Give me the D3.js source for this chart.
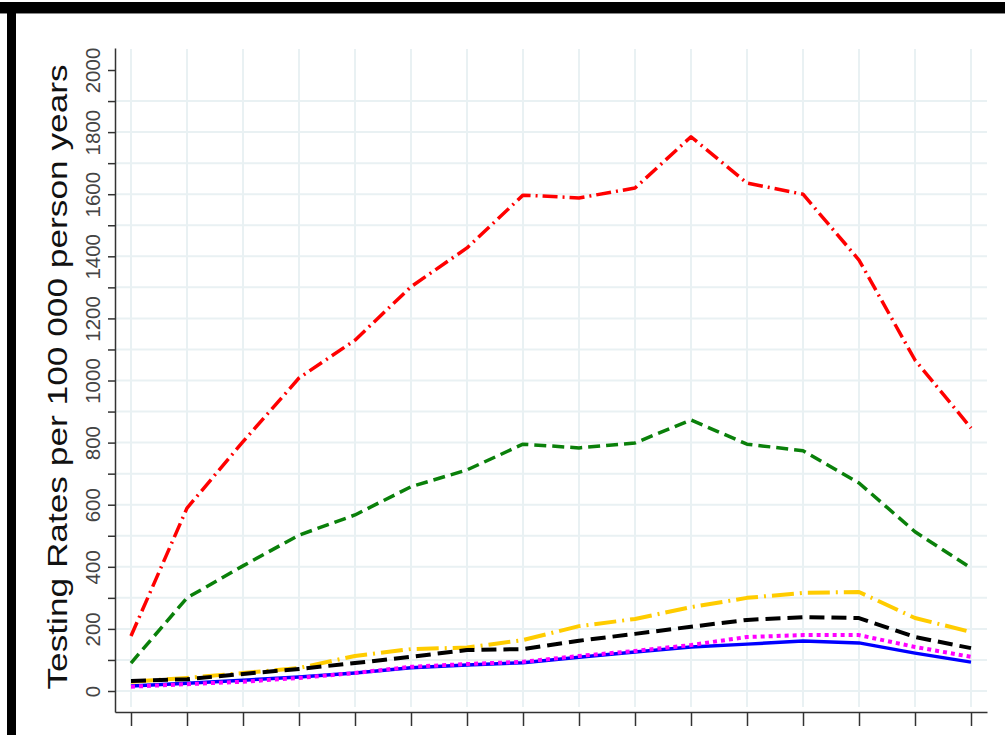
<!DOCTYPE html>
<html>
<head>
<meta charset="utf-8">
<script src="https://cdn.jsdelivr.net/npm/d3@7/dist/d3.min.js"></script>
<style>
  body { margin: 0; background: #fff; }
  svg { display: block; }
</style>
</head>
<body>
<svg width="1005" height="735"></svg>
<script>
;(function (d3) {
  var svg = d3.select('svg')

  // x positions are years, the labels sit below the visible area
  var years = d3.range(2000, 2016)

  var red = [177, 589, 803, 1008, 1130, 1302, 1427, 1597, 1588, 1620, 1785, 1636, 1600, 1388, 1066, 847]
  var green = [90, 300, 403, 502, 567, 658, 712, 795, 783, 799, 873, 795, 774, 670, 513, 396]
  var gold = [30, 42, 58, 74, 113, 135, 140, 164, 209, 232, 270, 300, 316, 319, 235, 190]
  var black = [32, 38, 55, 71, 90, 110, 132, 135, 162, 184, 207, 229, 238, 235, 174, 138]
  var magenta = [14, 22, 30, 42, 58, 78, 87, 94, 113, 129, 148, 174, 180, 180, 142, 110]
  var blue = [16, 25, 35, 45, 58, 75, 84, 91, 109, 126, 142, 151, 161, 155, 122, 93]

  var yTicks = d3.range(0, 2001, 100)
  var yGrid = d3.range(0, 1901, 100)

  var series = [
    {values: blue, color: '#0000ff', width: 3.5, dash: null},
    {values: magenta, color: '#ff00ff', width: 4, dash: '4,4'},
    {values: gold, color: '#ffcc00', width: 4, dash: '22,6,2,6'},
    {values: black, color: '#000000', width: 4, dash: '15,7'},
    {values: green, color: '#0a800a', width: 3.5, dash: '12,6'},
    {values: red, color: '#ff0000', width: 3.5, dash: '15,5,2,5'}
  ]

  var pad = 16 / 56
  var x = d3.scaleLinear()
    .domain([years[0] - pad, years[years.length - 1] + pad])
    .range([115, 987])

  var y = d3.scaleLinear()
    .domain([-67.6, 2070.9])
    .range([712, 48])

  // frame
  svg.append('rect').attr('x', 0).attr('y', 2).attr('width', 1005).attr('height', 11).attr('fill', '#000')
  svg.append('rect').attr('x', 0).attr('y', 13).attr('width', 1005).attr('height', 1).attr('fill', '#888')
  svg.append('rect').attr('x', 7).attr('y', 2).attr('width', 9).attr('height', 733).attr('fill', '#000')

  // grid
  svg.append('g').selectAll('line')
    .data(years)
    .enter()
    .append('line')
    .attr('x1', function (d) { return x(d) })
    .attr('x2', function (d) { return x(d) })
    .attr('y1', 49)
    .attr('y2', 707)
    .style('stroke', '#e9f1f3')
    .style('stroke-width', 2)

  svg.append('g').selectAll('line')
    .data(yGrid)
    .enter()
    .append('line')
    .attr('x1', 116)
    .attr('x2', 987)
    .attr('y1', function (d) { return y(d) })
    .attr('y2', function (d) { return y(d) })
    .style('stroke', '#e9f1f3')
    .style('stroke-width', 2)

  // axes
  var xAxis = svg.append('g')
    .attr('transform', 'translate(0,712)')
    .call(d3.axisBottom(x).tickValues(years).tickFormat('').tickSize(14).tickSizeOuter(0))
  xAxis.select('.domain').style('stroke', '#333').style('stroke-width', 1.5)
  xAxis.selectAll('.tick line').style('stroke', '#333').style('stroke-width', 1.5)

  var yAxis = svg.append('g')
    .attr('transform', 'translate(115,0)')
    .call(d3.axisLeft(y).tickValues(yTicks).tickSize(7).tickSizeOuter(0)
      .tickFormat(function (d) { return d % 200 === 0 ? d : '' }))
  yAxis.select('.domain').style('stroke', '#333').style('stroke-width', 1.5)
  yAxis.selectAll('.tick line').style('stroke', '#333').style('stroke-width', 1.5)
  yAxis.selectAll('.tick text')
    .attr('x', null)
    .attr('dy', null)
    .attr('transform', 'translate(-15,0) rotate(-90)')
    .attr('text-anchor', 'middle')
    .style('font-family', 'Liberation Sans, Arial, sans-serif')
    .style('font-size', '20.5px')
    .style('fill', '#444')

  svg.append('text')
    .attr('transform', 'translate(67,377) rotate(-90) scale(1.26,1)')
    .attr('text-anchor', 'middle')
    .style('font-family', 'Liberation Sans, Arial, sans-serif')
    .style('font-size', '28px')
    .style('fill', '#111')
    .text('Testing Rates per 100 000 person years')

  var ln = d3.line()
    .x(function (d, i) { return x(years[i]) })
    .y(function (d) { return y(d) })

  svg.append('g').selectAll('path')
    .data(series)
    .enter()
    .append('path')
    .attr('d', function (d) { return ln(d.values) })
    .style('fill', 'none')
    .style('stroke', function (d) { return d.color })
    .style('stroke-width', function (d) { return d.width })
    .style('stroke-linejoin', 'round')
    .attr('stroke-dasharray', function (d) { return d.dash })
})(window.d3)
</script>
</body>
</html>
